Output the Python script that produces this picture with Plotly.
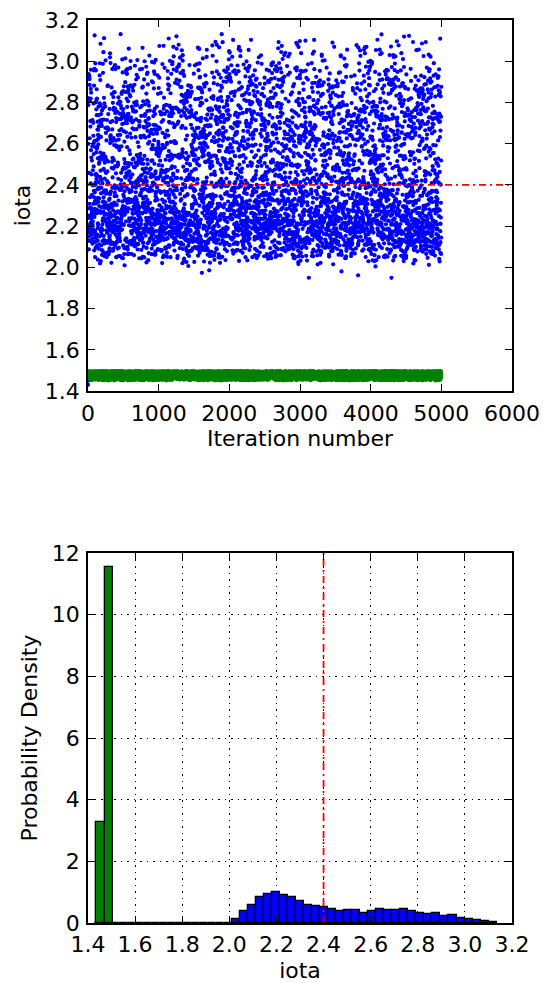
import numpy as np
import plotly.graph_objects as go

# ---------------- data ----------------
n_iter = 5000
truth_iota = 2.4

# Blue chain: histogram over 50 equal bins starting at 1.43
blue_bin_start = 1.43
blue_bin_width = 0.0341
blue_density = [
    0.012, 0, 0, 0, 0, 0, 0, 0, 0, 0,
    0, 0, 0, 0, 0, 0.012, 0.012, 0.12, 0.39, 0.57,
    0.84, 0.95, 1.00, 0.92, 0.84, 0.71, 0.57, 0.55, 0.52, 0.46,
    0.39, 0.41, 0.41, 0.34, 0.38, 0.44, 0.43, 0.43, 0.45, 0.39,
    0.32, 0.28, 0.33, 0.24, 0.25, 0.17, 0.13, 0.10, 0.08, 0.04,
]
blue_first_values = [1.43, 1.45]   # starting point of the blue chain

# Green chain: histogram over two bins
green_bin_edges = [1.435, 1.471, 1.507]
green_density = [3.26, 11.55]
green_band = [1.452, 1.496]          # extremes reached by the green chain

x_ticks = [0, 1000, 2000, 3000, 4000, 5000, 6000]

# ---------------- chain samples built from the histograms ----------------
MASK = (1 << 64) - 1


def mix(k, salt):
    """Integer mixing hash -> fraction in [0, 1)."""
    z = (k * 0x9E3779B97F4A7C15 + salt) & MASK
    z = ((z ^ (z >> 30)) * 0xBF58476D1CE4E5B9) & MASK
    z = ((z ^ (z >> 27)) * 0x94D049BB133111EB) & MASK
    z ^= z >> 31
    return (z >> 11) / float(1 << 53)


def allocate(weights, total):
    w = np.asarray(weights, float)
    raw = w / w.sum() * total
    cnt = np.floor(raw).astype(int)
    rem = total - cnt.sum()
    order = np.argsort(-(raw - cnt))
    cnt[order[:rem]] += 1
    return cnt


def chain_from_bins(lows, highs, weights, total, salt):
    cnt = allocate(weights, total)
    vals, keys = [], []
    k = 0
    for lo, hi, c in zip(lows, highs, cnt):
        for _ in range(c):
            vals.append(lo + mix(k, salt + 1) * (hi - lo))
            keys.append(mix(k, salt + 2))
            k += 1
    vals = np.array(vals)
    return vals[np.argsort(keys)]


b_edges = blue_bin_start + blue_bin_width * np.arange(len(blue_density) + 1)
blue_chain = np.concatenate([
    blue_first_values,
    chain_from_bins(b_edges[1:-1], b_edges[2:], blue_density[1:],
                    n_iter - len(blue_first_values), 11),
])

g_lows = [max(green_bin_edges[0], green_band[0]), green_bin_edges[1]]
g_highs = [green_bin_edges[1], min(green_bin_edges[2], green_band[1])]
green_chain = chain_from_bins(g_lows, g_highs, green_density, n_iter, 23)

iters = np.arange(n_iter)

# ---------------- figure ----------------
BLUE = "#0000ff"
GREEN = "#008000"
RED = "#ff0000"
FONT = "DejaVu Sans"
DASHDOT = "7px,4px,2px,4px"

fig = go.Figure()

# trace plot
fig.add_trace(go.Scatter(x=iters, y=blue_chain, mode="markers",
                         marker=dict(color=BLUE, size=4.2, line=dict(width=0)),
                         xaxis="x", yaxis="y", showlegend=False))
fig.add_trace(go.Scatter(x=iters, y=green_chain, mode="markers",
                         marker=dict(color=GREEN, size=4.2, line=dict(width=0)),
                         xaxis="x", yaxis="y", showlegend=False))
fig.add_trace(go.Scatter(x=[x_ticks[0], x_ticks[-1]], y=[truth_iota, truth_iota],
                         mode="lines", line=dict(color=RED, width=1.8, dash=DASHDOT),
                         xaxis="x", yaxis="y", showlegend=False))

# histograms
b_centers = (b_edges[:-1] + b_edges[1:]) / 2
fig.add_trace(go.Bar(x=b_centers, y=blue_density, width=blue_bin_width,
                     marker=dict(color=BLUE, line=dict(color="black", width=1.3)),
                     xaxis="x2", yaxis="y2", showlegend=False))
ge = np.array(green_bin_edges)
fig.add_trace(go.Bar(x=(ge[:-1] + ge[1:]) / 2, y=green_density, width=np.diff(ge),
                     marker=dict(color=GREEN, line=dict(color="black", width=1.3)),
                     xaxis="x2", yaxis="y2", showlegend=False))
fig.add_trace(go.Scatter(x=[truth_iota, truth_iota], y=[0, 12], mode="lines",
                         line=dict(color=RED, width=1.8, dash=DASHDOT),
                         xaxis="x2", yaxis="y2", showlegend=False))

axis_common = dict(
    showline=True, linecolor="black", linewidth=1.5, mirror="ticks",
    ticks="inside", ticklen=7, tickwidth=1, tickcolor="black",
    zeroline=False, automargin=False,
    tickfont=dict(family=FONT, size=22, color="black"),
)
grid_style = dict(showgrid=True, gridcolor="black", gridwidth=1, griddash="1.5px,5px")
title_font = dict(family=FONT, size=22, color="black")

fig.update_layout(
    width=549, height=983, autosize=False,
    margin=dict(l=0, r=0, t=0, b=0),
    paper_bgcolor="white", plot_bgcolor="white",
    bargap=0, barmode="overlay",
    xaxis=dict(**axis_common, domain=[0.1603, 0.9326], anchor="y",
               range=[0, 6000], tickvals=x_ticks, showgrid=False,
               ticklabelstandoff=2,
               title=dict(text="Iteration number", font=title_font, standoff=4)),
    yaxis=dict(**axis_common, domain=[0.6022, 0.9797], anchor="x",
               range=[1.4, 3.2], dtick=0.2, tickformat=".1f", showgrid=False,
               ticklabelstandoff=2,
               title=dict(text="iota", font=title_font, standoff=8)),
    xaxis2=dict(**axis_common, **grid_style, domain=[0.1603, 0.9326], anchor="y2",
                range=[1.4, 3.2], dtick=0.2, tickformat=".1f",
                ticklabelstandoff=1,
                title=dict(text="iota", font=title_font, standoff=6)),
    yaxis2=dict(**axis_common, **grid_style, domain=[0.0610, 0.4374], anchor="x2",
                range=[0, 12], dtick=2, tickformat="d",
                ticklabelstandoff=2,
                title=dict(text="Probability Density", font=title_font, standoff=8)),
)

fig.write_html("out.html")
